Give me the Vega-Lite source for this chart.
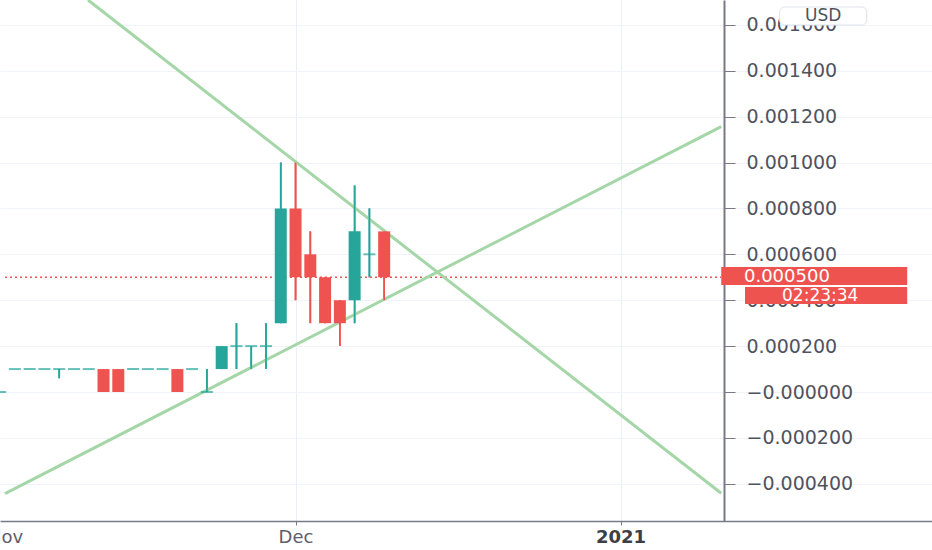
{
  "$schema": "https://vega.github.io/schema/vega-lite/v6.json",
  "width": 932,
  "height": 521,
  "autosize": {"type": "none"},
  "padding": {"left": 0, "top": 0, "right": 0, "bottom": 29},
  "background": "white",
  "config": {"view": {"stroke": null}, "font": "DejaVu Sans"},
  "datasets": {
    "candles": [
      {"i": -1, "open": 0, "high": 0, "low": 0, "close": 0},
      {"i": 0, "open": 0.0001, "high": 0.0001, "low": 0.0001, "close": 0.0001},
      {"i": 1, "open": 0.0001, "high": 0.0001, "low": 0.0001, "close": 0.0001},
      {"i": 2, "open": 0.0001, "high": 0.0001, "low": 0.0001, "close": 0.0001},
      {"i": 3, "open": 0.0001, "high": 0.0001, "low": 0.00006, "close": 0.0001},
      {"i": 4, "open": 0.0001, "high": 0.0001, "low": 0.0001, "close": 0.0001},
      {"i": 5, "open": 0.0001, "high": 0.0001, "low": 0.0001, "close": 0.0001},
      {"i": 6, "open": 0.0001, "high": 0.0001, "low": 0, "close": 0},
      {"i": 7, "open": 0.0001, "high": 0.0001, "low": 0, "close": 0},
      {"i": 8, "open": 0.0001, "high": 0.0001, "low": 0.0001, "close": 0.0001},
      {"i": 9, "open": 0.0001, "high": 0.0001, "low": 0.0001, "close": 0.0001},
      {"i": 10, "open": 0.0001, "high": 0.0001, "low": 0.0001, "close": 0.0001},
      {"i": 11, "open": 0.0001, "high": 0.0001, "low": 0, "close": 0},
      {"i": 12, "open": 0.0001, "high": 0.0001, "low": 0.0001, "close": 0.0001},
      {"i": 13, "open": 0, "high": 0.0001, "low": 0, "close": 0},
      {"i": 14, "open": 0.0001, "high": 0.0002, "low": 0.0001, "close": 0.0002},
      {"i": 15, "open": 0.0002, "high": 0.0003, "low": 0.0001, "close": 0.0002},
      {"i": 16, "open": 0.0002, "high": 0.0002, "low": 0.0001, "close": 0.0002},
      {"i": 17, "open": 0.0002, "high": 0.0003, "low": 0.0001, "close": 0.0002},
      {"i": 18, "open": 0.0003, "high": 0.001, "low": 0.0003, "close": 0.0008},
      {"i": 19, "open": 0.0008, "high": 0.001, "low": 0.0004, "close": 0.0005},
      {"i": 20, "open": 0.0006, "high": 0.0007, "low": 0.0003, "close": 0.0005},
      {"i": 21, "open": 0.0005, "high": 0.0005, "low": 0.0003, "close": 0.0003},
      {"i": 22, "open": 0.0004, "high": 0.0004, "low": 0.0002, "close": 0.0003},
      {"i": 23, "open": 0.0004, "high": 0.0009, "low": 0.0003, "close": 0.0007},
      {"i": 24, "open": 0.0006, "high": 0.0008, "low": 0.0005, "close": 0.0006},
      {"i": 25, "open": 0.0007, "high": 0.0007, "low": 0.0004, "close": 0.0005}
    ],
    "lines": [
      {"line": "resistance", "i": 4.95, "v": 0.0017081},
      {"line": "resistance", "i": 47.82, "v": -0.000441},
      {"line": "support", "i": -0.67, "v": -0.000443},
      {"line": "support", "i": 47.82, "v": 0.0011565}
    ],
    "price": [{"price": 0.0005, "label": "0.000500", "countdown": "02:23:34", "currency": "USD"}]
  },
  "layer": [
    {
      "data": {"name": "candles"},
      "mark": {"type": "rule", "strokeWidth": 1.7},
      "encoding": {
        "x": {
          "field": "i", "type": "quantitative", "title": null,
          "scale": {"domain": [-0.67, 61.75], "nice": false, "zero": false},
          "axis": {
            "orient": "bottom",
            "values": [-0.67, 19, 41],
            "labelExpr": "datum.value < 0 ? 'Nov' : (datum.value < 30 ? 'Dec' : '2021')",
            "domainColor": "#787b86", "domainWidth": 1.5,
            "tickColor": {"condition": {"test": "datum.value < 0", "value": "transparent"}, "value": "#787b86"},
            "tickSize": 4, "labelPadding": 3,
            "labelFontSize": 18,
            "labelColor": {"condition": {"test": "datum.value > 30", "value": "#3d3f47"}, "value": "#5d606b"},
            "labelFontWeight": {"condition": {"test": "datum.value > 30", "value": "bold"}, "value": "normal"},
            "labelFlush": false, "labelOverlap": false,
            "grid": true,
            "gridColor": {"condition": {"test": "datum.value < 0", "value": "transparent"}, "value": "#eceff5"}
          }
        },
        "y": {
          "field": "low", "type": "quantitative", "title": null,
          "scale": {"domain": [-0.000562, 0.0017081], "nice": false, "zero": false},
          "axis": {
            "orient": "right", "offset": -208,
            "values": [-0.0004, -0.0002, 0, 0.0002, 0.0004, 0.0006, 0.0008, 0.001, 0.0012, 0.0014, 0.0016],
            "labelExpr": "datum.value < 0.00000001 ? '−' + format(abs(datum.value), '.6f') : format(datum.value, '.6f')",
            "domainColor": "#787b86", "domainWidth": 2,
            "tickColor": "#787b86", "tickSize": 11, "labelPadding": 11,
            "labelFontSize": 19, "labelColor": "#50535e", "labelBaseline": "middle",
            "labelOverlap": false, "labelFlush": false,
            "grid": true, "gridColor": "#f0f3fa"
          }
        },
        "y2": {"field": "high"},
        "color": {"condition": {"test": "datum.close >= datum.open", "value": "#26a69a"}, "value": "#ef5350"}
      }
    },
    {
      "data": {"name": "price"},
      "mark": {"type": "rule", "color": "#ef5350", "strokeDash": [2, 3], "strokeWidth": 1.5},
      "encoding": {
        "y": {"field": "price", "type": "quantitative", "title": null},
        "x": {"datum": -0.67, "type": "quantitative"},
        "x2": {"datum": 47.82}
      }
    },
    {
      "data": {"name": "lines"},
      "mark": {"type": "line", "color": "#a5d6a7", "strokeWidth": 3, "clip": true},
      "encoding": {
        "x": {"field": "i", "type": "quantitative", "title": null},
        "y": {"field": "v", "type": "quantitative", "title": null},
        "detail": {"field": "line"}
      }
    },
    {
      "data": {"name": "candles"},
      "mark": {"type": "rule", "strokeWidth": 1.7},
      "encoding": {
        "x": {"field": "i", "type": "quantitative", "title": null},
        "y": {"field": "low", "type": "quantitative", "title": null},
        "y2": {"field": "high"},
        "color": {"condition": {"test": "datum.close >= datum.open", "value": "#26a69a"}, "value": "#ef5350"}
      }
    },
    {
      "data": {"name": "candles"},
      "mark": {"type": "bar", "width": 12},
      "encoding": {
        "x": {"field": "i", "type": "quantitative", "title": null},
        "y": {"field": "open", "type": "quantitative", "title": null},
        "y2": {"field": "close"},
        "color": {"condition": {"test": "datum.close >= datum.open", "value": "#26a69a"}, "value": "#ef5350"}
      }
    },
    {
      "data": {"name": "candles"},
      "transform": [{"filter": "datum.open == datum.close"}],
      "mark": {"type": "tick", "orient": "horizontal", "size": 12, "thickness": 2, "color": "#26a69a"},
      "encoding": {
        "x": {"field": "i", "type": "quantitative", "title": null},
        "y": {"field": "open", "type": "quantitative", "title": null}
      }
    },
    {
      "data": {"name": "price"},
      "mark": {"type": "rect", "color": "#ef5350"},
      "encoding": {
        "x": {"datum": 47.82, "type": "quantitative"},
        "x2": {"datum": 60.41},
        "y": {"datum": 0.0005447, "type": "quantitative"},
        "y2": {"datum": 0.0004662}
      }
    },
    {
      "data": {"name": "price"},
      "mark": {"type": "text", "color": "white", "fontSize": 18, "align": "left", "baseline": "middle"},
      "encoding": {
        "x": {"datum": 49.36, "type": "quantitative"},
        "y": {"field": "price", "type": "quantitative", "title": null},
        "text": {"field": "label"}
      }
    },
    {
      "data": {"name": "price"},
      "mark": {"type": "rect", "color": "#ef5350"},
      "encoding": {
        "x": {"datum": 49.43, "type": "quantitative"},
        "x2": {"datum": 60.41},
        "y": {"datum": 0.0004575, "type": "quantitative"},
        "y2": {"datum": 0.0003834}
      }
    },
    {
      "data": {"name": "price"},
      "mark": {"type": "text", "color": "white", "fontSize": 17, "align": "center", "baseline": "middle"},
      "encoding": {
        "x": {"datum": 54.52, "type": "quantitative"},
        "y": {"datum": 0.0004205, "type": "quantitative"},
        "text": {"field": "countdown"}
      }
    },
    {
      "data": {"name": "price"},
      "mark": {"type": "rect", "fill": "white", "stroke": "#e0e3eb", "strokeWidth": 1, "cornerRadius": 5},
      "encoding": {
        "x": {"datum": 51.77, "type": "quantitative"},
        "x2": {"datum": 57.67},
        "y": {"datum": 0.0016776, "type": "quantitative"},
        "y2": {"datum": 0.0015991}
      }
    },
    {
      "data": {"name": "price"},
      "mark": {"type": "text", "color": "#50535e", "fontSize": 17, "align": "center", "baseline": "middle"},
      "encoding": {
        "x": {"datum": 54.72, "type": "quantitative"},
        "y": {"datum": 0.0016383, "type": "quantitative"},
        "text": {"field": "currency"}
      }
    }
  ]
}
